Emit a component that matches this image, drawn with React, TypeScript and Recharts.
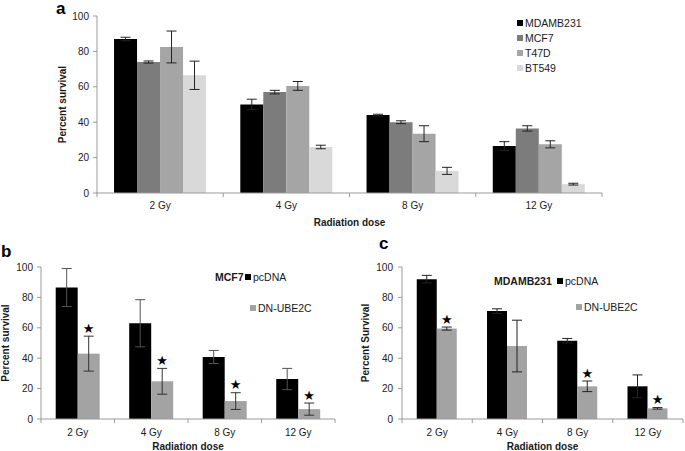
import { BarChart, Bar, XAxis, YAxis, ErrorBar, Legend } from "recharts"

const FONT = '"Liberation Sans", Arial, sans-serif'
const AXIS = "#9a9a9a"
const TEXT = "#1a1a1a"

const doses = ["2 Gy", "4 Gy", "8 Gy", "12 Gy"]
const yTicks = [0, 20, 40, 60, 80, 100]

// panel a: four cell lines
const cellLines = ["MDAMB231", "MCF7", "T47D", "BT549"]
const mdamb231 = [87, 50, 44, 26.5]
const mdamb231Err = [1, 3, 0.5, 2.5]
const mcf7 = [74, 57, 40, 36.5]
const mcf7Err = [0.6, 1, 0.8, 1.5]
const t47d = [82.5, 60.5, 33.5, 27.5]
const t47dErr = [9, 2.5, 4.5, 2]
const bt549 = [66.5, 26, 12.5, 5]
const bt549Err = [8, 1, 2, 0.5]

// panels b and c: pcDNA vs DN-UBE2C
const constructs = ["pcDNA", "DN-UBE2C"]

const pcdnaB = [86.5, 63, 40.8, 26.3]
const pcdnaBErr = [12.5, 15.5, 4.3, 7]
const dnB = [43, 24.8, 11.8, 6.5]
const dnBErr = [11.5, 8.5, 5.5, 4]
const starsB = [true, true, true, true]

const pcdnaC = [92, 71, 51.5, 21.5]
const pcdnaCErr = [2.5, 1.5, 1.5, 7.5]
const dnC = [59.5, 48, 21.5, 7]
const dnCErr = [1, 17, 3.5, 0.5]
const starsC = [true, false, true, true]

const dataA = doses.map((dose, i) => ({
  dose,
  mdamb231: mdamb231[i],
  mdamb231Err: mdamb231Err[i],
  mcf7: mcf7[i],
  mcf7Err: mcf7Err[i],
  t47d: t47d[i],
  t47dErr: t47dErr[i],
  bt549: bt549[i],
  bt549Err: bt549Err[i],
}))

const dataB = doses.map((dose, i) => ({
  dose,
  pcdna: pcdnaB[i],
  pcdnaErr: pcdnaBErr[i],
  dn: dnB[i],
  dnErr: dnBErr[i],
  star: starsB[i],
}))

const dataC = doses.map((dose, i) => ({
  dose,
  pcdna: pcdnaC[i],
  pcdnaErr: pcdnaCErr[i],
  dn: dnC[i],
  dnErr: dnCErr[i],
  star: starsC[i],
}))

// keep legend entries in series order (recharts sorts them by name)
function inOrder(payload: any[] | undefined, order: string[]) {
  return [...(payload ?? [])].sort((a, b) => order.indexOf(a.value) - order.indexOf(b.value))
}

// category ticks sit on the band edges, like Excel
function DoseTick(props: any) {
  const { x, y, payload, gap } = props
  const half = payload?.offset ?? 0
  const isLast = payload.value === doses[doses.length - 1]
  return (
    <g>
      <line x1={x - half} x2={x - half} y1={y} y2={y + 4} stroke={AXIS} />
      {isLast && <line x1={x + half} x2={x + half} y1={y} y2={y + 4} stroke={AXIS} />}
      <text x={x} y={y + gap} dy="0.35em" textAnchor="middle" fontSize={10} fill={TEXT} fontFamily={FONT}>
        {payload.value}
      </text>
    </g>
  )
}

// bar with a significance star above its error bar
function StarredBar(props: any) {
  const { x, y, width, height, fill, payload } = props
  const unit = payload.dn > 0 ? height / payload.dn : 0
  const errTop = y - payload.dnErr * unit
  return (
    <g>
      <rect x={x} y={y} width={width} height={height} fill={fill} />
      {payload.star ? (
        <text x={x + width / 2} y={errTop - 8} dy="0.35em" textAnchor="middle" fontSize={13} fill="#000" fontFamily="DejaVu Sans">
          ★
        </text>
      ) : null}
    </g>
  )
}

const axisTitle = { fontSize: 10, fontWeight: "bold", fill: TEXT, fontFamily: FONT }

function Square({ color }: { color: string }) {
  return <span style={{ display: "inline-block", width: 6, height: 6, background: color, marginRight: 2 }} />
}

const rowStyle = (left: number, y: number): any => ({
  position: "absolute",
  left,
  top: y - 7,
  height: 14,
  display: "flex",
  alignItems: "center",
  whiteSpace: "nowrap",
})

function PairLegend({ payload, title, titleX, rowY, squareX, row2X, row2Y }: any) {
  const items = inOrder(payload, constructs)
  return (
    <div style={{ position: "relative", width: "100%", height: "100%", fontFamily: FONT, fontSize: 10.5, color: TEXT }}>
      <div style={rowStyle(titleX, rowY)}>
        <b style={{ fontSize: 10.5 }}>{title}</b>
      </div>
      {items[0] && (
        <div style={rowStyle(squareX, rowY)}>
          <Square color={items[0].color} />
          {items[0].value}
        </div>
      )}
      {items[1] && (
        <div style={rowStyle(row2X, row2Y)}>
          <Square color={items[1].color} />
          {items[1].value}
        </div>
      )}
    </div>
  )
}

function LinesLegend({ payload }: any) {
  const items = inOrder(payload, cellLines)
  return (
    <div style={{ position: "relative", width: "100%", height: "100%", fontFamily: FONT, fontSize: 10.5, color: TEXT }}>
      {items.map((p: any, i: number) => (
        <div key={p.value} style={rowStyle(517, 22.7 + i * 15.2)}>
          <Square color={p.color} />
          {p.value}
        </div>
      ))}
    </div>
  )
}

export default function App() {
  return (
    <div style={{ position: "absolute", left: 0, top: 0, width: 685, height: 451, overflow: "hidden", background: "#fff", fontFamily: FONT }}>
      {/* panel labels */}
      <div style={{ position: "absolute", left: 56, top: 0, fontSize: 17, lineHeight: "17px", fontWeight: "bold" }}>a</div>
      <div style={{ position: "absolute", left: 1, top: 243, fontSize: 17, lineHeight: "17px", fontWeight: "bold" }}>b</div>
      <div style={{ position: "absolute", left: 379, top: 235, fontSize: 17, lineHeight: "17px", fontWeight: "bold" }}>c</div>

      {/* Panel a */}
      <div style={{ position: "absolute", left: 0, top: 0 }}>
        <BarChart width={685} height={230} data={dataA} margin={{ top: 16, right: 83, bottom: 4, left: 57 }} barGap={0} barCategoryGap="13.5%">
          <XAxis
            dataKey="dose"
            height={33}
            tickLine={false}
            tickSize={0}
            tickMargin={0}
            axisLine={{ stroke: AXIS }}
            tick={<DoseTick gap={12} />}
            label={{ value: "Radiation dose", position: "insideBottom", offset: 0, ...axisTitle }}
          />
          <YAxis
            width={40}
            domain={[0, 100]}
            ticks={yTicks}
            tickSize={4}
            tickMargin={4}
            axisLine={{ stroke: AXIS }}
            tickLine={{ stroke: AXIS }}
            tick={{ fontSize: 10, fill: TEXT, fontFamily: FONT }}
            label={{ value: "Percent survival", angle: -90, position: "insideLeft", offset: 5, ...axisTitle, style: { textAnchor: "middle" } }}
          />
          <Legend
            layout="vertical"
            align="center"
            verticalAlign="middle"
            wrapperStyle={{ left: 0, top: 0, width: 685, height: 230 }}
            content={(p: any) => <LinesLegend payload={p.payload} />}
          />
          <Bar dataKey="mdamb231" name="MDAMB231" fill="#000000" isAnimationActive={false}>
            <ErrorBar dataKey="mdamb231Err" width={5} stroke="#222" strokeWidth={1} direction="y" isAnimationActive={false} />
          </Bar>
          <Bar dataKey="mcf7" name="MCF7" fill="#7c7c7c" isAnimationActive={false}>
            <ErrorBar dataKey="mcf7Err" width={5} stroke="#222" strokeWidth={1} direction="y" isAnimationActive={false} />
          </Bar>
          <Bar dataKey="t47d" name="T47D" fill="#a5a5a5" isAnimationActive={false}>
            <ErrorBar dataKey="t47dErr" width={5} stroke="#222" strokeWidth={1} direction="y" isAnimationActive={false} />
          </Bar>
          <Bar dataKey="bt549" name="BT549" fill="#d9d9d9" isAnimationActive={false}>
            <ErrorBar dataKey="bt549Err" width={5} stroke="#222" strokeWidth={1} direction="y" isAnimationActive={false} />
          </Bar>
        </BarChart>
      </div>

      {/* Panel b */}
      <div style={{ position: "absolute", left: 0, top: 230 }}>
        <BarChart width={345} height={221} data={dataB} margin={{ top: 37, right: 10, bottom: 1, left: 0 }} barGap={0} barCategoryGap="20%">
          <XAxis
            dataKey="dose"
            height={31}
            tickLine={false}
            tickSize={0}
            tickMargin={0}
            axisLine={{ stroke: AXIS }}
            tick={<DoseTick gap={13} />}
            label={{ value: "Radiation dose", position: "insideBottom", offset: 0, ...axisTitle }}
          />
          <YAxis
            width={41}
            domain={[0, 100]}
            ticks={yTicks}
            tickSize={4}
            tickMargin={4}
            axisLine={{ stroke: AXIS }}
            tickLine={{ stroke: AXIS }}
            tick={{ fontSize: 10, fill: TEXT, fontFamily: FONT }}
            label={{ value: "Percent survival", angle: -90, position: "insideLeft", offset: 5, ...axisTitle, style: { textAnchor: "middle" } }}
          />
          <Legend
            layout="vertical"
            align="center"
            verticalAlign="middle"
            wrapperStyle={{ left: 0, top: 0, width: 345, height: 221 }}
            content={(p: any) => <PairLegend payload={p.payload} title="MCF7" titleX={215} rowY={47} squareX={245} row2X={250} row2Y={78} />}
          />
          <Bar dataKey="pcdna" name="pcDNA" fill="#000000" isAnimationActive={false}>
            <ErrorBar dataKey="pcdnaErr" width={5} stroke="#555" strokeWidth={1} direction="y" isAnimationActive={false} />
          </Bar>
          <Bar dataKey="dn" name="DN-UBE2C" fill="#a3a3a3" shape={StarredBar} isAnimationActive={false}>
            <ErrorBar dataKey="dnErr" width={5} stroke="#333" strokeWidth={1} direction="y" isAnimationActive={false} />
          </Bar>
        </BarChart>
      </div>

      {/* Panel c */}
      <div style={{ position: "absolute", left: 340, top: 230 }}>
        <BarChart width={345} height={221} data={dataC} margin={{ top: 37, right: 2, bottom: 1, left: 20 }} barGap={0} barCategoryGap="21%">
          <XAxis
            dataKey="dose"
            height={31}
            tickLine={false}
            tickSize={0}
            tickMargin={0}
            axisLine={{ stroke: AXIS }}
            tick={<DoseTick gap={13} />}
            label={{ value: "Radiation dose", position: "insideBottom", offset: 0, ...axisTitle }}
          />
          <YAxis
            width={42}
            domain={[0, 100]}
            ticks={yTicks}
            tickSize={4}
            tickMargin={5}
            axisLine={{ stroke: AXIS }}
            tickLine={{ stroke: AXIS }}
            tick={{ fontSize: 10, fill: TEXT, fontFamily: FONT }}
            label={{ value: "Percent Survival", angle: -90, position: "insideLeft", offset: 5, ...axisTitle, style: { textAnchor: "middle" } }}
          />
          <Legend
            layout="vertical"
            align="center"
            verticalAlign="middle"
            wrapperStyle={{ left: 0, top: 0, width: 345, height: 221 }}
            content={(p: any) => <PairLegend payload={p.payload} title="MDAMB231" titleX={154} rowY={51} squareX={217} row2X={236} row2Y={77} />}
          />
          <Bar dataKey="pcdna" name="pcDNA" fill="#000000" isAnimationActive={false}>
            <ErrorBar dataKey="pcdnaErr" width={5} stroke="#222" strokeWidth={1} direction="y" isAnimationActive={false} />
          </Bar>
          <Bar dataKey="dn" name="DN-UBE2C" fill="#a3a3a3" shape={StarredBar} isAnimationActive={false}>
            <ErrorBar dataKey="dnErr" width={5} stroke="#222" strokeWidth={1} direction="y" isAnimationActive={false} />
          </Bar>
        </BarChart>
      </div>
    </div>
  )
}
